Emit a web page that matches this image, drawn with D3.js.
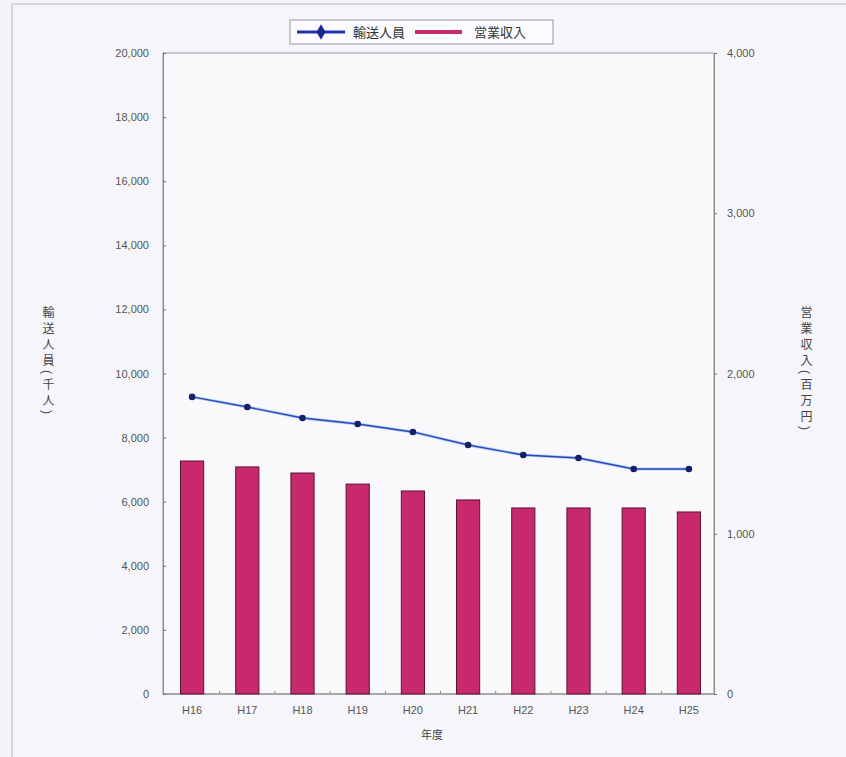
<!DOCTYPE html>
<meta charset="utf-8">
<script src="https://d3js.org/d3.v7.min.js"></script>
<style>
  body { margin: 0; background: #f5f5f9; }
  text { font-family: "Liberation Sans", "Noto Sans CJK JP", sans-serif; fill: #444; }
</style>
<svg width=846 height=757></svg>
<script>

// data
var years = ['H16', 'H17', 'H18', 'H19', 'H20', 'H21', 'H22', 'H23', 'H24', 'H25'];
var passengers = [9270, 8955, 8612, 8424, 8175, 7769, 7457, 7363, 7020, 7020];   // 千人
var revenue = [1454, 1417, 1379, 1310, 1267, 1211, 1161, 1161, 1161, 1136];    // 百万円
var leftTicks = d3.range(0, 20001, 2000);
var rightTicks = d3.range(0, 4001, 1000);

var svg = d3.select('svg');
var fmt = d3.format(',');

// frame around the whole chart
svg.append('rect')
  .attr('x', 12).attr('y', 4)
  .attr('width', 846).attr('height', 800)
  .attr('fill', '#f6f6fa')
  .attr('stroke', '#b8b8c0');

var plotLeft = 163, plotRight = 714, plotTop = 53, plotBottom = 694;

var x = d3.scaleBand().domain(years).range([164.5, 716.5]).paddingInner(0.58).paddingOuter(0.29);
var xc = d3.scalePoint().domain(years).range([164.5, 716.5]).padding(0.5);
var yL = d3.scaleLinear().domain([0, 20000]).range([plotBottom, plotTop]);
var yR = d3.scaleLinear().domain([0, 4000]).range([plotBottom, plotTop]);

// plot area
svg.append('rect')
  .attr('x', plotLeft).attr('y', plotTop)
  .attr('width', plotRight - plotLeft).attr('height', plotBottom - plotTop)
  .attr('fill', '#f9f9fc')
  .attr('stroke', '#9a9aa2');

// left axis
var gl = svg.append('g')
  .attr('transform', 'translate(' + plotLeft + ',0)')
  .call(d3.axisLeft(yL).tickValues(leftTicks).tickFormat(fmt).tickSize(-3).tickPadding(14));
gl.select('.domain').attr('stroke', '#888');
gl.selectAll('.tick line').attr('stroke', '#777');
gl.selectAll('text').style('font-size', '11px').style('fill', '#555');

// right axis
var gr = svg.append('g')
  .attr('transform', 'translate(' + plotRight + ',0)')
  .call(d3.axisRight(yR).tickValues(rightTicks).tickFormat(fmt).tickSize(3).tickPadding(10));
gr.select('.domain').attr('stroke', '#888');
gr.selectAll('.tick line').attr('stroke', '#777');
gr.selectAll('text').style('font-size', '11px').style('fill', '#555');

// bottom axis
var gb = svg.append('g')
  .attr('transform', 'translate(0,' + plotBottom + ')')
  .call(d3.axisBottom(x).tickSize(0).tickPadding(12));
gb.select('.domain').attr('stroke', '#888').attr('d', 'M' + plotLeft + ',0H' + plotRight);
gb.selectAll('text').style('font-size', '11px').style('fill', '#555');

// small separators between categories
svg.selectAll('.sep')
  .data(years.slice(1))
  .enter().append('line')
  .attr('x1', function(d) { return xc(d) - xc.step() / 2; })
  .attr('x2', function(d) { return xc(d) - xc.step() / 2; })
  .attr('y1', plotBottom).attr('y2', plotBottom - 3)
  .attr('stroke', '#888');

// bars
svg.selectAll('.bar')
  .data(revenue)
  .enter().append('rect')
  .attr('x', function(d, i) { return x(years[i]); })
  .attr('y', function(d) { return yR(d); })
  .attr('width', x.bandwidth())
  .attr('height', function(d) { return plotBottom - yR(d); })
  .attr('fill', '#c8296d')
  .attr('stroke', '#5c1434')
  .attr('stroke-width', 1);

// line
var line = d3.line()
  .x(function(d, i) { return xc(years[i]); })
  .y(function(d) { return yL(d); });

svg.append('path')
  .datum(passengers)
  .attr('d', line)
  .attr('fill', 'none')
  .attr('stroke', '#9fd8f0')
  .attr('stroke-width', 3);
svg.append('path')
  .datum(passengers)
  .attr('d', line)
  .attr('fill', 'none')
  .attr('stroke', '#3a3fc0')
  .attr('stroke-width', 1.3);

svg.selectAll('.dot')
  .data(passengers)
  .enter().append('circle')
  .attr('cx', function(d, i) { return xc(years[i]); })
  .attr('cy', function(d) { return yL(d); })
  .attr('r', 3.3)
  .attr('fill', '#15206a');

// axis titles
svg.append('text')
  .attr('x', 432).attr('y', 739)
  .attr('text-anchor', 'middle')
  .style('font-size', '11px')
  .text('年度');

svg.append('text')
  .attr('x', 47).attr('y', 306)
  .style('writing-mode', 'vertical-rl')
  .style('font-size', '12px')
  .style('letter-spacing', '4px')
  .text('輸送人員(千人)');

svg.append('text')
  .attr('x', 805).attr('y', 306)
  .style('writing-mode', 'vertical-rl')
  .style('font-size', '12px')
  .style('letter-spacing', '4px')
  .text('営業収入(百万円)');

// legend
var lg = svg.append('g');
lg.append('rect')
  .attr('x', 290).attr('y', 20)
  .attr('width', 263).attr('height', 24)
  .attr('fill', '#fbfbfd')
  .attr('stroke', '#999');
lg.append('line')
  .attr('x1', 297).attr('x2', 345).attr('y1', 32).attr('y2', 32)
  .attr('stroke', '#2530b0').attr('stroke-width', 3);
lg.append('path')
  .attr('d', d3.symbol().type(d3.symbolDiamond).size(70))
  .attr('transform', 'translate(321,32)')
  .attr('fill', '#1a2590');
lg.append('text')
  .attr('x', 353).attr('y', 37)
  .style('font-size', '13px').style('fill', '#333')
  .text('輸送人員');
lg.append('line')
  .attr('x1', 415).attr('x2', 462).attr('y1', 32).attr('y2', 32)
  .attr('stroke', '#c8296d').attr('stroke-width', 4);
lg.append('text')
  .attr('x', 474).attr('y', 37)
  .style('font-size', '13px').style('fill', '#333')
  .text('営業収入');

</script>
